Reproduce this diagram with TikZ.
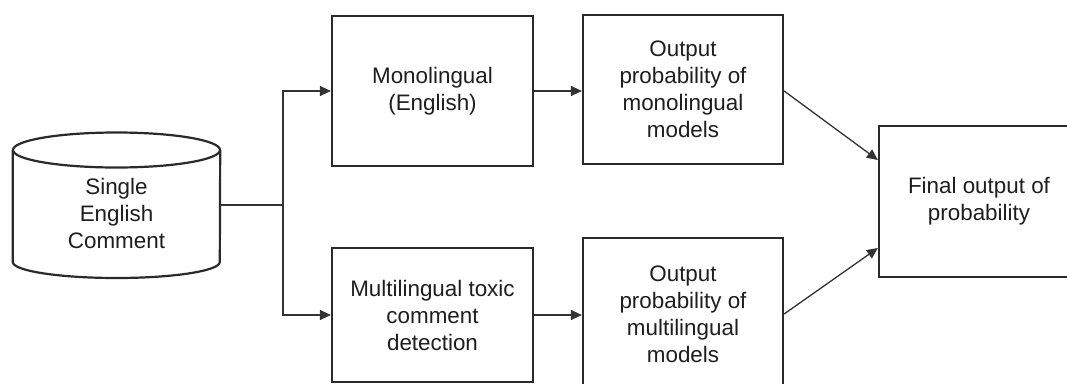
\documentclass[tikz,border=0pt]{standalone}
\usepackage{fontspec}
\setmainfont{Liberation Sans}
\usetikzlibrary{arrows.meta,calc}
\definecolor{edge}{HTML}{2A2A2A}
\definecolor{wire}{HTML}{333333}
\definecolor{ink}{HTML}{1E1E1E}
\tikzset{
  stepbox/.style={draw=edge, line width=2.2pt, fill=white, text=ink, align=center,
    inner sep=0pt, font=\fontsize{22.4}{27}\selectfont},
  wireline/.style={draw=wire, line width=1.3pt},
  arrowline/.style={wireline, -{Triangle[length=11pt,width=10pt]}},
  label text/.style={text=ink, align=center, font=\fontsize{22.4}{27}\selectfont}
}
\begin{document}
\begin{tikzpicture}[x=1pt,y=-1pt]
\clip (0,0) rectangle (1067,383);
\useasboundingbox (0,0) rectangle (1067,383);
\fill[white] (0,0) rectangle (1067,383);

% database cylinder
\node (db) at (116.5,205) [minimum width=207pt, minimum height=146pt, inner sep=0pt] {};
\draw[edge, line width=2.2pt, fill=white]
  (db.west |- 0,150) -- (db.west |- 0,262)
  arc[start angle=180, end angle=0, x radius=103.5, y radius=16]
  -- (db.east |- 0,150);
\draw[edge, line width=2.2pt] (116.5,150) ellipse [x radius=103.5, y radius=17.5];
\node[label text] (dbtext) at (116.5,213) {Single\\English\\Comment};

% processing boxes
\node[stepbox, minimum width=201pt, minimum height=150pt] (mono) at (432.5,91) {Monolingual\\(English)};
\node[stepbox, minimum width=201pt, minimum height=134pt] (multi) at (432.5,315) {Multilingual toxic\\comment\\detection};
\node[stepbox, minimum width=200pt, minimum height=149pt] (outmono) at (683,89.5) {Output\\probability of\\monolingual\\models};
\node[stepbox, minimum width=200pt, minimum height=152pt] (outmulti) at (683,314) {Output\\probability of\\multilingual\\models};
\node[stepbox, minimum width=200pt, minimum height=151pt] (final) at (979,201.5) {Final output of\\probability};

% connectors
\coordinate (split) at (283,205);
\draw[wireline] (db.east) -- (split);
\draw[arrowline] (split) |- (mono.west);
\draw[arrowline] (split) |- (multi.west);
\draw[arrowline] (mono.east) -- (mono.east -| outmono.west);
\draw[arrowline] (multi.east) -- (multi.east -| outmulti.west);
\draw[arrowline] ([yshift=-1.5pt]outmono.east) -- ([yshift=41.5pt]final.west);
\draw[arrowline] (outmulti.east) -- ([yshift=-46.5pt]final.west);
\end{tikzpicture}
\end{document}
